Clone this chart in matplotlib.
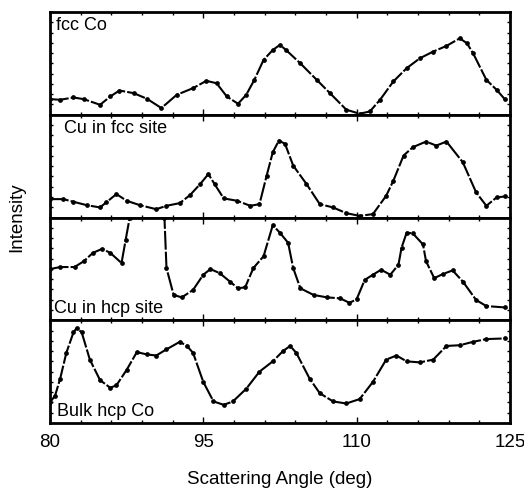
import numpy as np
import matplotlib
matplotlib.use("Agg")
import matplotlib.pyplot as plt
from matplotlib.ticker import FixedLocator

plt.rcParams['font.family'] = ['Liberation Sans', 'DejaVu Sans']

# scattering angle (deg) / intensity (arb. units, 0-100 per panel)
fcc_co_x = [80, 81, 82.3, 83.3, 84.9, 85.9, 86.8, 88.2, 89.5, 90.9, 92.4, 94, 95.3, 96.3, 97.3,
            98.4, 99.2, 100, 100.9, 101.8, 102.5, 103.1, 104.5, 106.1, 107.4, 109, 110.3, 111.3,
            112.3, 113.6, 114.9, 116.2, 117.5, 118.8, 120.1, 120.8, 121.4, 122.7, 123.7, 124.5]
fcc_co_y = [15.2, 14.6, 16.8, 15.2, 9.7, 17.8, 23.6, 21, 15.5, 6.5, 19.4, 25.9, 33, 30.7, 17.8,
            10.7, 19.4, 34, 53.4, 63, 68, 63, 50, 34, 21, 4.9, 1, 3.2,
            14.6, 32.4, 45.3, 55, 61.5, 67, 74.4, 69.6, 59.9, 34, 24.3, 15.2]

cu_fcc_x = [80, 81.3, 82.3, 83.6, 84.9, 85.5, 86.5, 87.5, 88.8, 90.4, 91.4, 92.7, 93.7, 94.7, 95.5,
            96.1, 97, 98.3, 99.6, 100.5, 101.2, 101.8, 102.4, 103, 103.8, 105.1, 106.4, 107.7, 109,
            110.3, 111.6, 112.9, 113.6, 114.6, 115.5, 116.8, 117.8, 118.8, 120.4, 121.7, 122.7,
            123.7, 124.5]
cu_fcc_y = [17.9, 17.9, 15.3, 12, 9.8, 14.7, 22.8, 16.3, 12, 8.1, 11.4, 14, 21.8, 32.6, 42.3,
            32.6, 18.6, 16.3, 11.4, 13, 40.7, 63.5, 74.9, 71.7, 50.5, 32.6, 13, 9.8, 4.2,
            1.6, 3.3, 21.2, 35.8, 60.3, 68.4, 73.9, 70, 73.9, 53.7, 24.4, 11.4,
            19.5, 20.5]

cu_hcp_x = [80, 81, 82.4, 83.3, 84.2, 85.1, 85.9, 87, 87.4, 87.8, 88.6, 89.5, 90.4, 91.2, 91.4,
            92.1, 92.9, 94, 95, 95.7, 96.6, 97.6, 98.4, 99.1, 99.9, 100.9, 101.8, 102.5, 103.3,
            103.8, 104.5, 105.8, 107.1, 108.4, 109.3, 110, 110.8, 111.6, 112.4, 113.3, 114.1,
            114.4, 114.9, 115.5, 116.5, 116.8, 117.6, 118.5, 119.4, 120.4, 121.7, 122.7, 124.5]
cu_hcp_y = [49.8, 51.8, 51.8, 57.4, 65.6, 69.5, 65.6, 55.7, 78, 100, 140, 160, 140, 100, 50.8,
            24.6, 22.3, 29.5, 44.3, 49.8, 45.9, 37.7, 31.1, 32.1, 50.8, 62.3, 92.5, 85.2, 75.4,
            50.8, 31.1, 24.6, 22.3, 21.3, 17, 20.3, 39.3, 44.3, 49.2, 44.3, 54.1,
            70.5, 85.2, 84.6, 73.8, 57.4, 41, 45.2, 48.5, 37.7, 19.7, 13.8, 12.5]

bulk_x = [80, 80.5, 81, 81.6, 82.3, 82.6, 83.1, 83.9, 84.9, 85.9, 86.5, 87.5, 88.5, 89.5, 90.4,
          91.4, 92.7, 93.4, 94, 95, 96, 97, 97.9, 99.2, 100.5, 101.8, 102.8, 103.5, 104.1, 105.4,
          106.4, 107.7, 109, 110.3, 111.6, 112.9, 113.9, 114.9, 116.2, 117.5, 118.8, 120.1,
          121.4, 122.7, 124.5]
bulk_y = [20, 26.7, 43.3, 68.3, 88.3, 92.3, 88.3, 61.7, 41.7, 34.3, 36.7, 51.7, 69, 66.7, 65.7,
          71.7, 79, 75, 68.3, 40, 21, 17.7, 21, 33.3, 50, 60, 70, 75, 68.3, 43.3,
          29, 21, 19, 23.3, 40, 61.7, 65.7, 60, 59, 61.7, 75, 75.7,
          79, 81.7, 82.3]

major_ticks = [80, 95, 110, 125]

panels = [
    (fcc_co_x, fcc_co_y, "fcc Co", "top"),
    (cu_fcc_x, cu_fcc_y, "Cu in fcc site", "top"),
    (cu_hcp_x, cu_hcp_y, "Cu in hcp site", "bottom"),
    (bulk_x, bulk_y, "Bulk hcp Co", "bottom"),
]

fig = plt.figure(figsize=(5.24, 4.9), dpi=100)
gs = fig.add_gridspec(4, 1, left=0.0954, right=0.973, top=0.9755, bottom=0.1367, hspace=0)
axes = [fig.add_subplot(gs[i]) for i in range(4)]

for i, (ax, (x, y, label, pos)) in enumerate(zip(axes, panels)):
    ax.plot(x, y, color="black", lw=1.5, marker="o", ms=2.4, dashes=(9, 1.0))
    ax.set_xlim(80, 125)
    ax.set_ylim(0, 100)
    ax.xaxis.set_major_locator(FixedLocator(major_ticks))
    ax.xaxis.set_minor_locator(FixedLocator(np.arange(80, 126, 3)))
    ax.yaxis.set_major_locator(FixedLocator([]))
    ax.yaxis.set_minor_locator(FixedLocator(np.arange(10, 100, 10)))
    ax.tick_params(which="both", direction="in", top=True, right=True, labelleft=False)
    ax.tick_params(which="major", length=4, width=1)
    ax.tick_params(which="minor", length=2.5, width=1)
    for s in ax.spines.values():
        s.set_linewidth(2)
    if i < 3:
        ax.tick_params(labelbottom=False)
    if pos == "top":
        ax.text(0.013 if i == 0 else 0.031, 0.87, label, transform=ax.transAxes,
                fontsize=13, va="center", ha="left")
    else:
        ax.text(0.009 if i == 2 else 0.015, 0.11, label, transform=ax.transAxes,
                fontsize=13, va="center", ha="left")

axes[-1].tick_params(axis="x", labelsize=13.5, pad=8)
axes[-1].set_xlabel("Scattering Angle (deg)", fontsize=13.5, labelpad=14)
fig.text(0.032, 0.556, "Intensity", rotation=90, fontsize=13.5, va="center", ha="center")

fig.savefig("out.png", dpi=100)
